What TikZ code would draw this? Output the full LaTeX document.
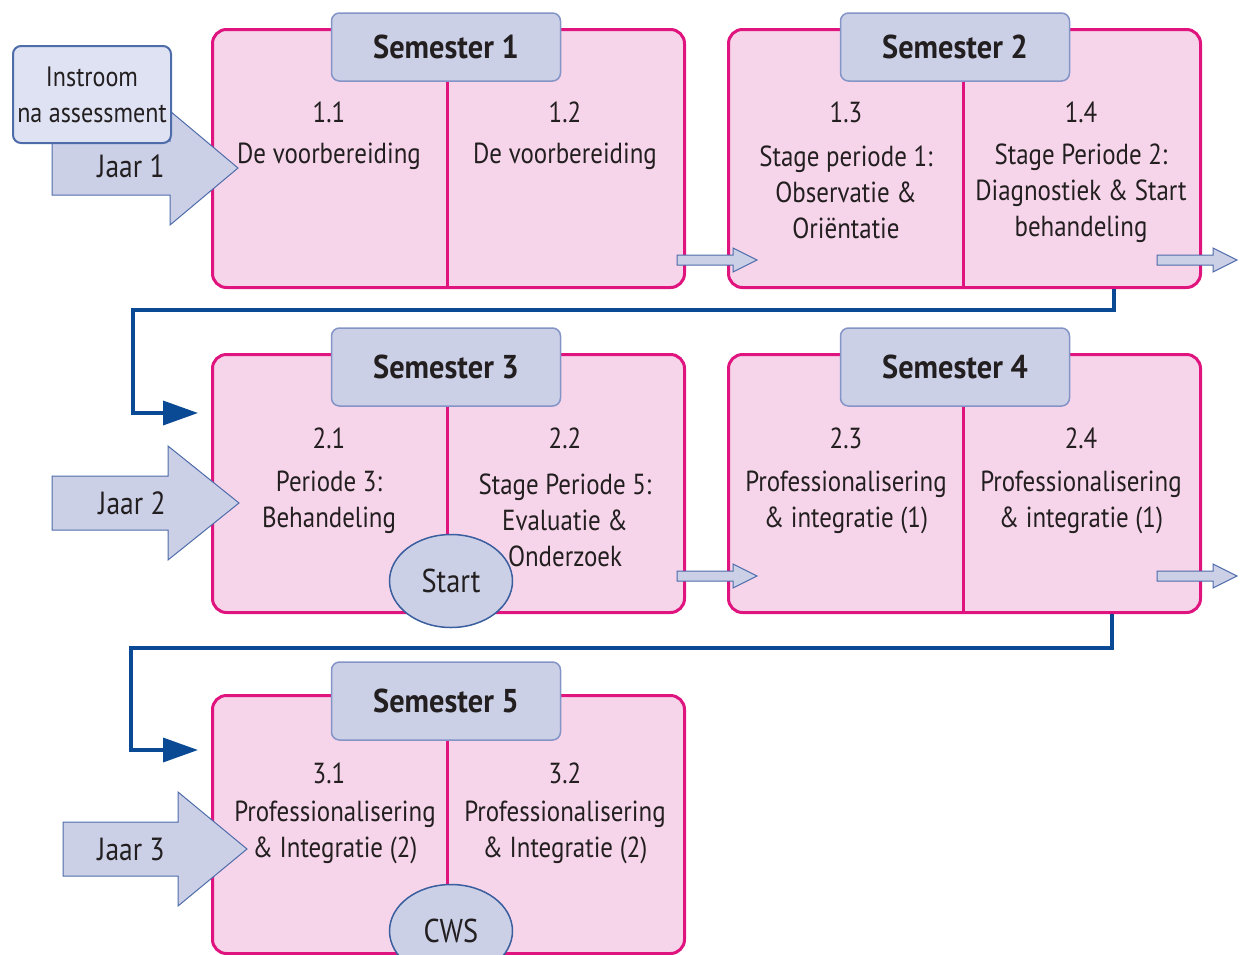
\documentclass[tikz,border=0pt]{standalone}
\usepackage{fontspec}
\setmainfont[FakeStretch=0.86]{PT Sans}
\newfontfamily\kopfam[FakeStretch=0.92]{PT Sans}
\usetikzlibrary{shapes.geometric,arrows.meta}

\definecolor{roze}{HTML}{F6D5EA}
\definecolor{roserand}{HTML}{E0147E}
\definecolor{lila}{HTML}{CBD0E7}
\definecolor{lilarand}{HTML}{8494C6}
\definecolor{instroomvul}{HTML}{DEE2F2}
\definecolor{pijlrand}{HTML}{4E6CAA}
\definecolor{ovaalrand}{HTML}{3A5E9E}
\definecolor{donkerblauw}{HTML}{0A4A94}
\definecolor{tekst}{HTML}{231F20}

\newcommand\celfont{\fontsize{29}{36}\selectfont}
\newcommand\tabfont{\kopfam\fontsize{33}{36}\selectfont\bfseries}

\begin{document}
\begin{tikzpicture}[x=1pt,y=-1pt,
    blok/.style={draw=roserand,fill=roze,line width=3pt,rounded corners=14pt,
      minimum width=472pt,minimum height=258pt,anchor=north west},
    tab/.style={draw=lilarand,fill=lila,line width=1.5pt,rounded corners=8pt,
      minimum width=229pt,font=\tabfont,text=tekst},
    cel/.style={align=center,font=\celfont,text=tekst,inner sep=0pt},
    scheiding/.style={draw=roserand,line width=3pt},
    pijl/.style={draw=pijlrand,fill=lila,line width=1pt},
    verbind/.style={draw=donkerblauw,line width=3.5pt,-{Triangle[length=35pt,width=24pt]}},
    ovaal/.style={ellipse,draw=ovaalrand,fill=lila,line width=1.5pt,
      minimum width=123pt,minimum height=93pt,font=\fontsize{33}{36}\selectfont,text=tekst}]
    \clip (0,0) rectangle (1240,954);

    \foreach \n/\x/\y in {1/211/28, 2/727/28, 3/211/353, 4/727/353, 5/211/694}
    \node[blok] (s\n) at (\x,\y) {};

    \foreach \n/\x/\y/\h in {1/446/47/68, 2/955/47/68, 3/446/367/78, 4/955/367/78, 5/446/701/78}
    \node[tab,minimum height=\h pt] (t\n) at (\x,\y) {Semester \n};

    \draw[scheiding] (t1.south -| 447,0) -- (s1.south -| 447,0);
    \draw[scheiding] (t2.south -| 963,0) -- (s2.south -| 963,0);
    \draw[scheiding] (t3.south -| 447,0) -- (s3.south -| 447,0);
    \draw[scheiding] (t4.south -| 963,0) -- (s4.south -| 963,0);
    \draw[scheiding] (t5.south -| 447,0) -- (s5.south -| 447,0);

    \node[cel] (nr11) at (329,112) {1.1};
    \node[cel] (c11) at (329,156) {De voorbereiding};
    \node[cel] (nr12) at (565,112) {1.2};
    \node[cel] (c12) at (565,156) {De voorbereiding};
    \node[cel] (nr13) at (846,112) {1.3};
    \node[cel] (c13) at (846,192) {Stage periode 1:\\Observatie \&\\Oriëntatie};
    \node[cel] (nr14) at (1081,112) {1.4};
    \node[cel] (c14) at (1081,193) {Stage Periode 2:\\Diagnostiek \& Start\\behandeling};

    \node[cel] (nr21) at (329,438) {2.1};
    \node[cel] (c21) at (329,502) {Periode 3:\\Behandeling};
    \node[cel] (nr22) at (565,438) {2.2};
    \node[cel] (c22) at (565,520) {Stage Periode 5:\\Evaluatie \&\\Onderzoek};
    \node[cel] (nr23) at (846,438) {2.3};
    \node[cel] (c23) at (846,502) {Professionalisering\\\& integratie (1)};
    \node[cel] (nr24) at (1081,438) {2.4};
    \node[cel] (c24) at (1081,502) {Professionalisering\\\& integratie (1)};

    \node[cel] (nr31) at (329,773) {3.1};
    \node[cel] (c31) at (335,832) {Professionalisering\\\& Integratie (2)};
    \node[cel] (nr32) at (565,773) {3.2};
    \node[cel] (c32) at (565,832) {Professionalisering\\\& Integratie (2)};

    \node[ovaal] (start) at (451,581) {Start};
    \node[ovaal] (cws) at (451,931) {CWS};

    \foreach \x/\y in {677/260, 1157/260, 677/576, 1157/576}
    \draw[pijl] (\x,\y-5) -- ++(56,0) -- ++(0,-7) -- ++(24,12) -- ++(-24,12) -- ++(0,-7) -- ++(-56,0) -- cycle;

    \foreach \xa/\xb/\xc/\ym in {52/170/238/168, 52/168/239/503, 63/178/247/849}
    \draw[pijl] (\xa,\ym-27) -- (\xb,\ym-27) -- (\xb,\ym-57) -- (\xc,\ym)
      -- (\xb,\ym+57) -- (\xb,\ym+27) -- (\xa,\ym+27) -- cycle;
    \node[cel,font=\fontsize{32}{36}\selectfont] (j1) at (131,166) {Jaar 1};
    \node[cel,font=\fontsize{32}{36}\selectfont] (j2) at (132,503) {Jaar 2};
    \node[cel,font=\fontsize{32}{36}\selectfont] (j3) at (131,849) {Jaar 3};

    \node[draw=pijlrand,fill=instroomvul,line width=2pt,rounded corners=8pt,
      minimum width=158pt,minimum height=97pt,anchor=north west,
      align=center,font=\fontsize{28}{36}\selectfont,text=tekst,inner sep=0pt] (in) at (12,45) {Instroom\\na assessment};

    \coordinate (in3) at (198,413);
    \coordinate (in5) at (198,750);
    \draw[verbind] (s2.south -| 1114,0) -- ++(0,21) -| (133,413) -- (in3);
    \draw[verbind] (s4.south -| 1112,0) -- ++(0,34) -| (131,750) -- (in5);
  \end{tikzpicture}
\end{document}
